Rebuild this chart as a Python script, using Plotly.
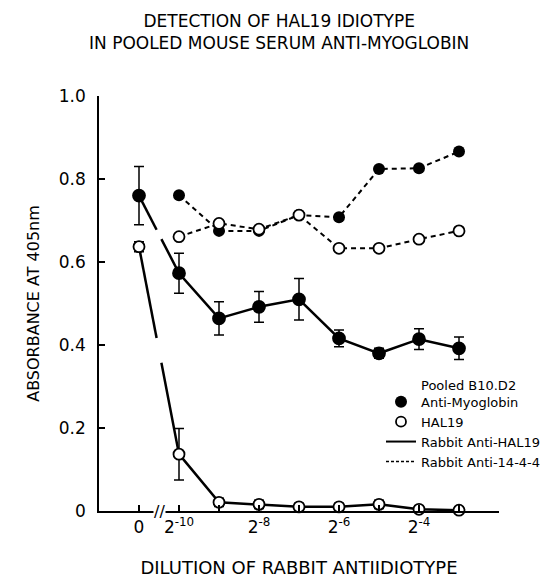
import plotly.graph_objects as go

# Dilution steps (x positions are the index in this list)
dilutions = ["0", "2^-10", "2^-9", "2^-8", "2^-7", "2^-6", "2^-5", "2^-4", "2^-3"]
tick_labels = ["0", "2<sup>-10</sup>", "", "2<sup>-8</sup>", "", "2<sup>-6</sup>", "", "2<sup>-4</sup>", ""]

# Pooled B10.D2 anti-myoglobin + rabbit anti-HAL19 (solid, filled)
myo_anti_hal19 = [0.76, 0.573, 0.464, 0.492, 0.51, 0.416, 0.38, 0.414, 0.392]
myo_anti_hal19_err = [0.07, 0.048, 0.04, 0.037, 0.05, 0.02, 0.012, 0.025, 0.027]

# HAL19 + rabbit anti-HAL19 (solid, open)
hal19_anti_hal19 = [0.637, 0.137, 0.021, 0.016, 0.01, 0.01, 0.016, 0.004, 0.002]
hal19_anti_hal19_err = [0.012, 0.062, 0.01, 0.01, 0.008, 0.008, 0.01, 0.008, 0.008]

# rabbit anti-14-4-4 (dashed), no point at 0
myo_anti_1444 = [None, 0.761, 0.675, 0.675, 0.713, 0.708, 0.824, 0.826, 0.866]
hal19_anti_1444 = [None, 0.661, 0.693, 0.679, 0.713, 0.633, 0.633, 0.655, 0.675]

x = list(range(len(dilutions)))
FONT = "DejaVu Sans, Liberation Sans, sans-serif"


def broken_line(xs, ys, t1=0.44, t2=0.56):
    # first segment (0 -> 2^-10) is drawn with a break in the middle
    x0, x1 = xs[0], xs[1]
    y0, y1 = ys[0], ys[1]
    bx = [x0, x0 + t1 * (x1 - x0), None, x0 + t2 * (x1 - x0)] + xs[1:]
    by = [y0, y0 + t1 * (y1 - y0), None, y0 + t2 * (y1 - y0)] + ys[1:]
    return bx, by


fig = go.Figure()

# dashed series
fig.add_trace(go.Scatter(
    x=x, y=myo_anti_1444, mode="lines+markers",
    line=dict(color="black", width=2, dash="5px,4px"),
    marker=dict(size=12, color="black"),
    showlegend=False, cliponaxis=False,
))
fig.add_trace(go.Scatter(
    x=x, y=hal19_anti_1444, mode="lines+markers",
    line=dict(color="black", width=2, dash="5px,4px"),
    marker=dict(size=11, color="white", line=dict(color="black", width=1.8)),
    showlegend=False, cliponaxis=False,
))

# solid series
for ys, err, filled in [(myo_anti_hal19, myo_anti_hal19_err, True),
                        (hal19_anti_hal19, hal19_anti_hal19_err, False)]:
    bx, by = broken_line(x, ys)
    fig.add_trace(go.Scatter(
        x=bx, y=by, mode="lines",
        line=dict(color="black", width=2.5),
        showlegend=False, cliponaxis=False, hoverinfo="skip",
    ))
    fig.add_trace(go.Scatter(
        x=x, y=ys, mode="markers",
        error_y=dict(type="data", array=err, color="black", thickness=1.5, width=5),
        marker=dict(size=12 if filled else 11,
                    color="black" if filled else "white",
                    line=dict(color="black", width=1.8)),
        showlegend=False, cliponaxis=False,
    ))

# legend entries
fig.add_trace(go.Scatter(x=[None], y=[None], mode="markers", name="Pooled B10.D2<br>Anti-Myoglobin",
                         marker=dict(size=12, color="black")))
fig.add_trace(go.Scatter(x=[None], y=[None], mode="markers", name="HAL19",
                         marker=dict(size=10, color="white", line=dict(color="black", width=1.8))))
fig.add_trace(go.Scatter(x=[None], y=[None], mode="lines", name="Rabbit Anti-HAL19",
                         line=dict(color="black", width=2)))
fig.add_trace(go.Scatter(x=[None], y=[None], mode="lines", name="Rabbit Anti-14-4-4",
                         line=dict(color="black", width=1.5, dash="3px,2px")))

# axis break marks on x-axis
fig.add_annotation(x=0.5, y=0, xref="x", yref="y", text="//", showarrow=False,
                   font=dict(family=FONT, size=16, color="black"), bgcolor="white", borderpad=0)

# two-line title
fig.add_annotation(
    text="DETECTION OF HAL19 IDIOTYPE<br>IN POOLED MOUSE SERUM ANTI-MYOGLOBIN",
    xref="paper", yref="paper", x=0.45, y=1.21, xanchor="center", yanchor="top",
    showarrow=False, font=dict(family=FONT, size=17, color="black"),
)

# page body adds an 8px offset, so the figure is a bit smaller than the window
fig.update_layout(
    width=550, height=570,
    margin=dict(l=91, r=47, t=88, b=67),
    paper_bgcolor="white", plot_bgcolor="white",
    font=dict(family=FONT, color="black", size=15),
    legend=dict(
        x=0.705, y=0.34, xanchor="left", yanchor="top",
        bgcolor="rgba(0,0,0,0)", font=dict(family=FONT, size=13),
        itemwidth=30, tracegroupgap=0, valign="bottom",
    ),
    showlegend=True,
)
fig.update_xaxes(
    range=[-1, 9], tickvals=x, ticktext=tick_labels, automargin=False,
    showline=True, linecolor="black", linewidth=1.5,
    ticks="inside", ticklen=6, tickwidth=1.5, tickcolor="black",
    showgrid=False, zeroline=False, tickfont=dict(size=17),
    title=dict(text="DILUTION OF RABBIT ANTIIDIOTYPE", standoff=26, font=dict(size=18)),
)
fig.update_yaxes(
    range=[0, 1.0], tickvals=[0, 0.2, 0.4, 0.6, 0.8, 1.0], automargin=False,
    ticktext=["0", "0.2", "0.4", "0.6", "0.8", "1.0"],
    showline=True, linecolor="black", linewidth=1.5,
    ticks="inside", ticklen=6, tickwidth=1.5, tickcolor="black",
    showgrid=False, zeroline=False, tickfont=dict(size=17), ticklabelstandoff=8,
    title=dict(text="ABSORBANCE AT 405nm", standoff=15, font=dict(size=16)),
)

fig.write_html("out.html")
